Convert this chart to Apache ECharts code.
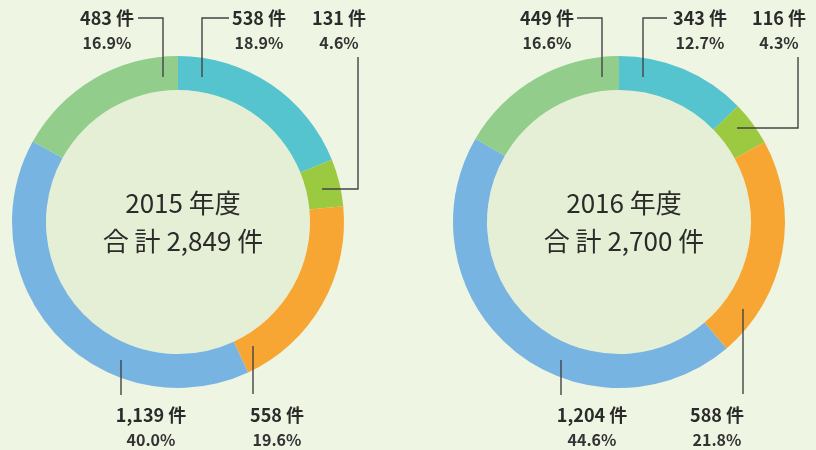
<!DOCTYPE html>
<html>
<head>
<meta charset="utf-8">
<script src="https://cdn.jsdelivr.net/npm/echarts@6/dist/echarts.min.js"></script>
<style>
html,body{margin:0;padding:0;background:#eef5e2;}
#main{width:816px;height:450px;}
</style>
</head>
<body>
<div id="main"></div>
<script>
// 区分（時計回り・12時方向から）
var colors = ['#55c4cf', '#9bc93f', '#f8a633', '#78b4e2', '#92cd8c'];
var years = ['2015 年度', '2016 年度'];
var totals = ['2,849', '2,700'];
var counts2015 = [538, 131, 558, 1139, 483];
var counts2016 = [343, 116, 588, 1204, 449];
var pct2015 = ['18.9%', '4.6%', '19.6%', '40.0%', '16.9%'];
var pct2016 = ['12.7%', '4.3%', '21.8%', '44.6%', '16.6%'];

// ラベル位置と引き出し線（描画用）
var centers = [[178, 222], [619, 222]];
var labelPos = [
  [[259, 6], [339, 6], [277, 403], [151, 403], [107, 6]],
  [[700, 6], [779, 6], [717, 403], [592, 403], [547, 6]]
];
var linePts = [
  [[[202, 77], [202, 18], [229, 18]], [[322, 189], [358, 189], [358, 57]], [[253, 346], [253, 394]], [[121, 360], [121, 395]], [[163, 77], [163, 18], [138, 18]]],
  [[[643, 77], [643, 18], [667, 18]], [[737, 128], [798, 128], [798, 57]], [[743, 309], [743, 394]], [[561, 360], [561, 395]], [[602, 77], [602, 18], [577, 18]]]
];

function fmt(n) {
  return String(n).replace(/\B(?=(\d{3})+(?!\d))/g, ',');
}

var font = '"Noto Sans CJK JP", "Noto Sans", sans-serif';

function donut(idx, counts, pcts) {
  return {
    type: 'pie',
    center: centers[idx],
    radius: [132, 166],
    startAngle: 90,
    clockwise: true,
    silent: true,
    animation: false,
    avoidLabelOverlap: false,
    minShowLabelAngle: 0,
    z: 3,
    data: counts.map(function (v, i) {
      return { value: v, name: pcts[i], itemStyle: { color: colors[i] } };
    }),
    label: {
      show: true,
      overflow: 'none',
      formatter: function (p) {
        return '{a|' + fmt(p.value) + ' 件}\n{b|' + p.name + '}';
      },
      rich: {
        a: { fontFamily: font, fontSize: 18, fontWeight: 'bold', color: '#2b2b2b', lineHeight: 24, align: 'center' },
        b: { fontFamily: font, fontSize: 16, fontWeight: 'bold', color: '#333', lineHeight: 26, align: 'center' }
      }
    },
    labelLine: { show: false },
    labelLayout: function (p) {
      var pos = labelPos[idx][p.dataIndex];
      return { x: pos[0], y: pos[1], align: 'center', verticalAlign: 'top' };
    }
  };
}

function innerFill(idx) {
  return {
    type: 'pie',
    center: centers[idx],
    radius: [0, 132],
    silent: true,
    animation: false,
    z: 1,
    label: { show: false },
    labelLine: { show: false },
    data: [{ value: 1, itemStyle: { color: '#e5efd5' } }]
  };
}

// 引き出し線
var leaders = [];
linePts.forEach(function (group) {
  group.forEach(function (pts) {
    leaders.push({
      type: 'polyline',
      z: 100,
      silent: true,
      shape: { points: pts },
      style: { stroke: '#444', lineWidth: 1.4, fill: null }
    });
  });
});

var chart = echarts.init(document.getElementById('main'), null, { renderer: 'canvas' });
chart.setOption({
  backgroundColor: '#eef5e2',
  animation: false,
  title: years.map(function (y, i) {
    return {
      text: y + '\n合 計 ' + totals[i] + ' 件',
      left: centers[i][0],
      top: 179,
      textAlign: 'center',
      textStyle: {
        fontFamily: font,
        fontSize: 26,
        fontWeight: 'normal',
        color: '#2b2b2b',
        lineHeight: 38
      }
    };
  }),
  graphic: leaders,
  series: [
    innerFill(0), donut(0, counts2015, pct2015),
    innerFill(1), donut(1, counts2016, pct2016)
  ]
});
</script>
</body>
</html>
